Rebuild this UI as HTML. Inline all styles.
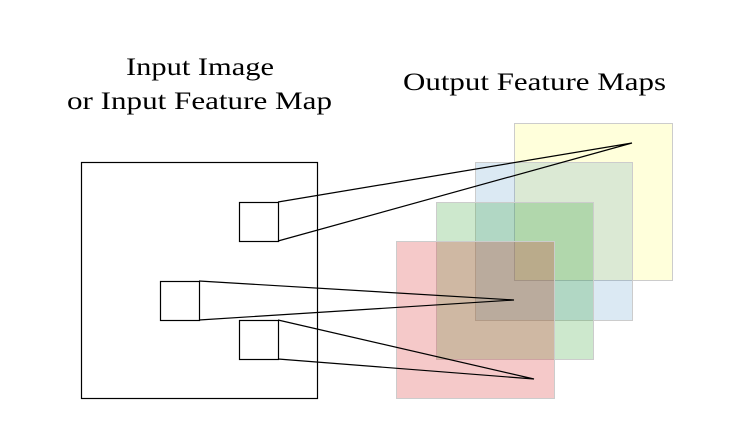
<!DOCTYPE html>
<html><head><style>html,body{margin:0;padding:0;background:#fff}</style></head>
<body>
<svg width="734" height="441" viewBox="0 0 734 441" xmlns="http://www.w3.org/2000/svg">
<g font-family="Liberation Serif, serif" font-size="25" fill="#000">
<text x="126" y="75" textLength="148" lengthAdjust="spacingAndGlyphs">Input Image</text>
<text x="67" y="109" textLength="265" lengthAdjust="spacingAndGlyphs">or Input Feature Map</text>
<text x="403" y="90" textLength="263" lengthAdjust="spacingAndGlyphs">Output Feature Maps</text>
</g>
<g stroke="#000" stroke-width="1.2" fill="none">
<rect x="81.5" y="162.5" width="236" height="236"/>
<rect x="239.5" y="202.5" width="39" height="39"/>
<rect x="160.5" y="281.5" width="39" height="39"/>
<rect x="239.5" y="320.5" width="39" height="39"/>
</g>
<g stroke="#ccc" stroke-width="1">
<rect x="514.5" y="123.5" width="158" height="157" fill="#ffff00" fill-opacity="0.14"/>
<rect x="475.5" y="162.5" width="157" height="158" fill="#1f77b4" fill-opacity="0.16"/>
<rect x="436.5" y="202.5" width="157" height="157" fill="#2ca02c" fill-opacity="0.24"/>
<rect x="396.5" y="241.5" width="158" height="157" fill="#d62728" fill-opacity="0.25"/>
</g>
<g stroke="#000" stroke-width="1.2" fill="none">
<polyline points="278,202 632,143 278,241"/>
<polyline points="199,281 514,300 199,320"/>
<polyline points="278,320 534,379 278,359"/>
</g>
</svg>
</body></html>
